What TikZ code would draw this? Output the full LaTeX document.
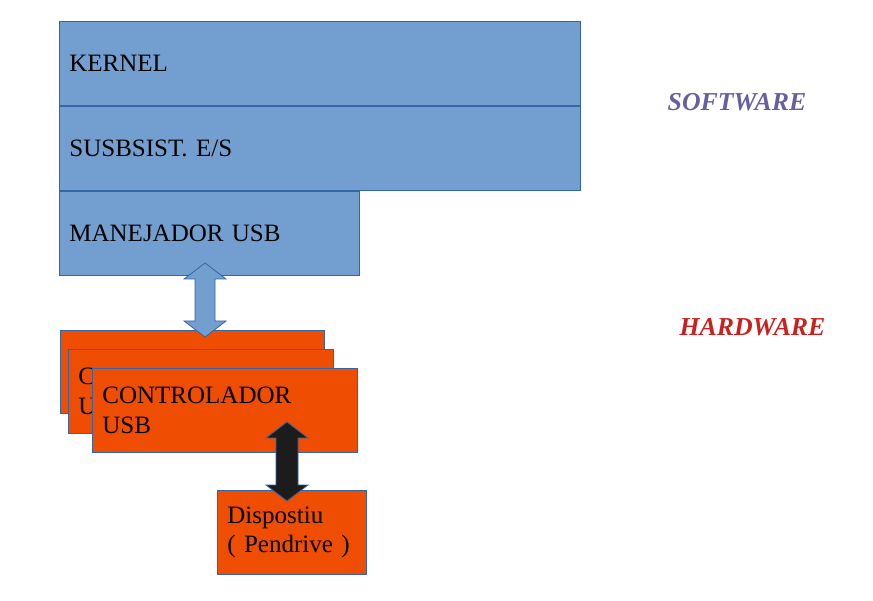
\documentclass[tikz,border=0pt]{standalone}
\usepackage{fontspec}
\setmainfont{Liberation Serif}
\usepackage{xcolor}
\usepackage{tikz}
\usetikzlibrary{calc}
\definecolor{swfill}{HTML}{729FCF}
\definecolor{edge}{HTML}{3465A4}
\definecolor{hwfill}{HTML}{EE4D02}
\definecolor{dark}{HTML}{1C1C1C}
\definecolor{swtext}{HTML}{665FA3}
\definecolor{hwtext}{HTML}{C9211E}
\tikzset{
  layer/.style={draw=edge, fill=swfill, line width=0.8pt, anchor=north west,
    inner xsep=10pt, align=left, font=\fontsize{25}{29.5}\selectfont},
  chip/.style={layer, fill=hwfill},
  bluearrow/.style={draw=edge, fill=swfill, line width=0.8pt},
  darkarrow/.style={draw=edge, fill=dark, line width=0.8pt},
  side/.style={font=\fontsize{25.8}{30}\selectfont\bfseries\itshape}
}
\newcommand{\FatArrow}[4]{% style, top tip, bottom tip, shaft half width
  \draw[#1] (#2) -- ++(21,16) -- ++(-21+#4,0) -- ($(#3)+(#4,-16)$) -- ++(21-#4,0)
    -- (#3) -- ++(-21,-16) -- ++(21-#4,0) -- ($(#2)+(-#4,16)$) -- ++(-21+#4,0) -- cycle;
}

\begin{document}
\begin{tikzpicture}[x=1pt,y=-1pt]
  \useasboundingbox (0,0) rectangle (873,601);
  % software layers
  \node[layer, minimum width=521pt, minimum height=84pt, text width=501pt] (kernel) at (59,21) {KERNEL};
  \node[layer, minimum width=521pt, minimum height=84pt, text width=501pt] (subsys) at (kernel.south west) {SUSBSIST. E/S};
  \node[layer, minimum width=300pt, minimum height=84pt, text width=280pt] (driver) at (subsys.south west) {MANEJADOR USB};
  % stacked controllers (only the front one is readable)
  \node[chip, minimum width=264pt, minimum height=83pt] (ctrlA) at (60,330) {};
  \node[chip, minimum width=265pt, minimum height=84pt, text width=245pt] (ctrlB) at (68,349) {C\\U};
  \node[chip, minimum width=265pt, minimum height=84pt, text width=245pt] (ctrlC) at (92,368) {CONTROLADOR\\USB};
  \node[chip, minimum width=149pt, minimum height=84pt, text width=129pt] (disp) at (217,490) {Dispostiu\\( Pendrive )};
  % side labels
  \node[side, text=swtext] (sw) at (737,102) {SOFTWARE};
  \node[side, text=hwtext] (hw) at (752.5,327) {HARDWARE};
  % arrows between levels
  \coordinate (blueTop) at (205,263);
  \coordinate (blueBot) at (205,337);
  \coordinate (darkTop) at (287,422);
  \coordinate (darkBot) at (287,501);
  \FatArrow{bluearrow}{blueTop}{blueBot}{10}
  \FatArrow{darkarrow}{darkTop}{darkBot}{11}
\end{tikzpicture}
\end{document}
